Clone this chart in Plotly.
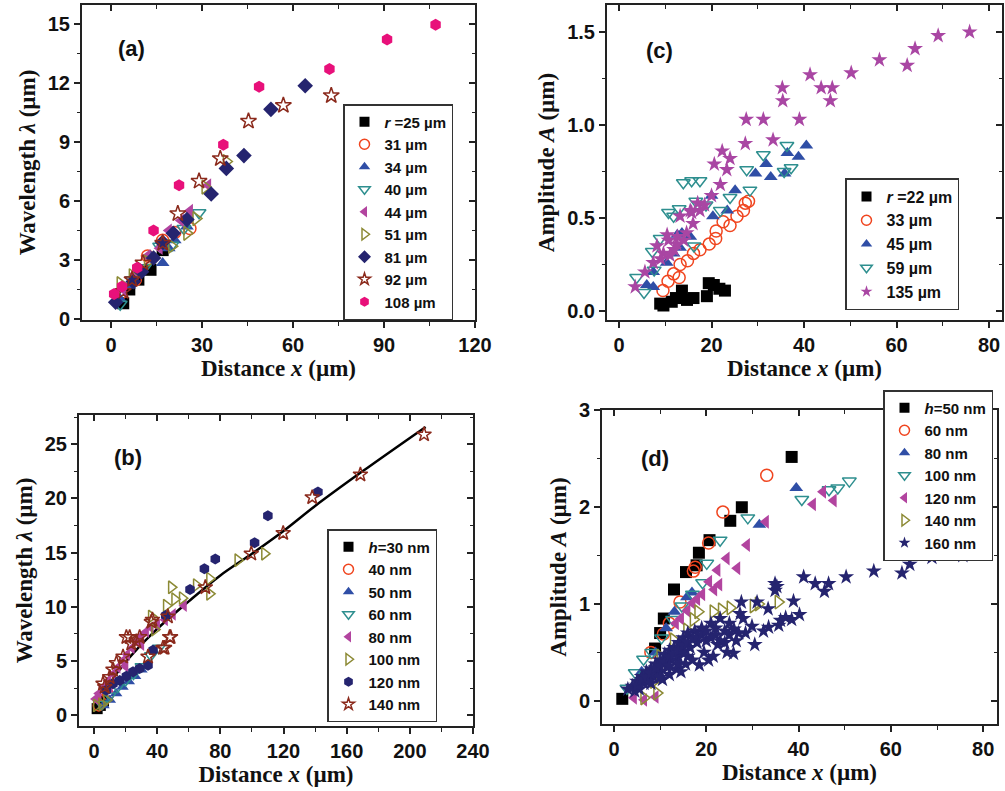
import plotly.graph_objects as go

# ---- panel (a): wavelength vs distance, different radii r ----
a_names = ["<i>r</i> =25 µm", "31 µm", "34 µm", "40 µm", "44 µm", "51 µm", "81 µm", "92 µm", "108 µm"]
a_x = [
    [4, 6, 9, 13, 17],
    [3, 8, 12, 17, 21, 26],
    [3, 6, 10, 13, 17, 19, 21, 25],
    [3, 7, 11, 16, 20, 24, 29],
    [4, 8, 12, 16, 19, 23, 26, 32],
    [3, 7, 12, 20, 25, 28, 31, 38],
    [1.5, 7.3, 10, 14, 17, 20.5, 25, 33, 38, 43.8, 52.7, 64],
    [4, 6.9, 10.5, 17, 22, 29, 36, 45.3, 56.8, 72.6],
    [1, 3.6, 8.6, 14, 22.4, 37, 48.8, 72, 91, 107],
]
a_y = [
    [0.8, 1.5, 2.0, 2.5, 3.5],
    [1.3, 2.0, 3.2, 4.0, 4.4, 4.6],
    [1.0, 1.7, 2.5, 3.2, 2.85, 3.6, 4.0, 4.7],
    [0.75, 2.0, 2.6, 3.7, 3.75, 4.6, 5.4],
    [1.5, 2.3, 3.2, 3.6, 4.5, 5.0, 5.5, 6.8],
    [1.8, 2.2, 2.9, 3.7, 4.35, 5.1, 6.7, 8.0],
    [0.85, 1.9, 2.4, 3.1, 3.9, 4.35, 5.05, 6.35, 7.65, 8.3, 10.65, 11.85],
    [1.4, 2.0, 2.85, 3.85, 5.35, 7.0, 8.15, 10.05, 10.85, 11.35],
    [1.27, 1.65, 2.6, 4.5, 6.8, 8.85, 11.8, 12.7, 14.2, 14.95],
]

# ---- panel (c): amplitude vs distance, different radii r ----
c_names = ["<i>r</i> =22 µm", "33 µm", "45 µm", "59 µm", "135 µm"]
c_x = [
    [8.9, 9.6, 11.4, 12.3, 13.6, 14.7, 16.1, 19, 19.4, 20.5, 21.7, 22.9],
    [9.5, 10.6, 11.8, 13, 13.2, 14.8, 16.1, 17.5, 19.5, 20.9, 21, 22.5, 24, 25.5, 26.9, 27.3, 28],
    [6, 7.4, 7.4, 10.3, 11.8, 13.2, 12.6, 13.6, 15.4, 20.3, 20, 23.4, 25.1, 29.5, 31.8, 32.8,
     35.8, 36.4, 38.8, 40.5],
    [3.8, 5.4, 7.6, 7.2, 8.9, 10.7, 11.8, 13, 13.9, 15.7, 17.5, 16.6, 18.8, 21.9, 24, 27.6,
     28.3, 31.2, 36.3, 35.7, 37.2, 16.2],
    [3.5, 5.6, 7.4, 8.2, 9.6, 10.7, 10.4, 11.9, 12.6, 13.2, 14.6, 15.7, 17, 17.5, 15.4, 20,
     21.9, 20.6, 23.3, 22.3, 24, 27.3, 27.5, 31.2, 33.3, 35.3, 35.4, 39, 41.3, 43.7, 45.7, 46.1,
     50.2, 56.3, 62.3, 64, 69, 75.8, 9, 11, 12.5, 14, 16, 18.5],
]
c_y = [
    [0.04, 0.03, 0.05, 0.07, 0.11, 0.06, 0.07, 0.08, 0.15, 0.14, 0.12, 0.11],
    [0.11, 0.16, 0.2, 0.18, 0.25, 0.27, 0.31, 0.33, 0.36, 0.39, 0.43, 0.48, 0.46, 0.51, 0.54, 0.58, 0.59],
    [0.14, 0.13, 0.21, 0.26, 0.31, 0.34, 0.41, 0.42, 0.40, 0.51, 0.62, 0.54, 0.65, 0.74, 0.79, 0.72,
     0.74, 0.85, 0.83, 0.89],
    [0.18, 0.10, 0.22, 0.32, 0.39, 0.53, 0.51, 0.55, 0.69, 0.70, 0.70, 0.59, 0.57, 0.54, 0.61, 0.76,
     0.65, 0.84, 0.89, 0.75, 0.77, 0.35],
    [0.13, 0.21, 0.26, 0.35, 0.31, 0.38, 0.41, 0.33, 0.40, 0.51, 0.42, 0.53, 0.58, 0.54, 0.54, 0.62,
     0.68, 0.79, 0.76, 0.86, 0.82, 0.9, 1.03, 1.03, 0.92, 1.2, 1.13, 1.03, 1.27, 1.2, 1.13, 1.2,
     1.28, 1.35, 1.32, 1.41, 1.48, 1.5, 0.28, 0.30, 0.36, 0.38, 0.47, 0.57],
]

# ---- panel (b): wavelength vs distance, different film thickness h ----
b_names = ["<i>h</i>=30 nm", "40 nm", "50 nm", "60 nm", "80 nm", "100 nm", "120 nm", "140 nm"]
b_x = [
    [2, 4, 6],
    [3, 6, 9],
    [6, 10, 14, 18, 22, 26, 30],
    [5, 10, 15, 20, 25, 30, 36, 41],
    [1, 3, 6, 9, 12, 15, 18, 21, 24, 27, 30, 33, 36, 40, 45, 50, 57, 10, 20, 30],
    [1.5, 5, 8, 36.3, 38.4, 45.8, 49, 51.1, 55.9, 64.8, 73.2, 73.2, 91.1, 108],
    [7.8, 12, 16.3, 20.5, 24.7, 28.9, 34.2, 37.4, 45.4, 60.8, 69.9, 76.8, 101.7, 110.1, 141.8],
    [5.7, 6.8, 9.9, 12, 14.2, 18.4, 20.5, 22.6, 23.6, 26.8, 28.9, 34.2, 36.3, 37, 43.7, 44.7,
     46.8, 47.9, 48.5, 70.5, 99.6, 119.8, 138.2, 168.7, 209],
]
b_y = [
    [0.6, 0.9, 1.3],
    [0.9, 1.4, 1.9],
    [0.9, 1.4, 2.0, 2.6, 3.1, 3.6, 4.2],
    [1.0, 1.8, 2.6, 3.2, 3.8, 4.5, 5.5, 6.2],
    [1.5, 2.0, 2.6, 3.2, 3.8, 4.4, 5.0, 5.6, 6.2, 6.8, 7.3, 7.7, 8.1, 8.3, 8.8, 9.3, 10.1, 2.6, 4.5, 6.5],
    [0.9, 1.0, 1.4, 9.1, 7.9, 10.1, 11.8, 10.7, 10.8, 12.0, 11.2, 12.6, 14.3, 14.9],
    [2.3, 2.9, 3.2, 3.6, 4.0, 4.3, 4.6, 6.0, 9.2, 11.6, 13.5, 14.4, 15.9, 18.4, 20.6],
    [2.9, 2.6, 3.5, 4.2, 4.8, 5.4, 7.2, 7.2, 6.6, 6.8, 7.2, 5.4, 8.6, 8.8, 6.2, 6.2,
     9.1, 7.2, 7.2, 11.8, 14.9, 16.8, 20.1, 22.2, 25.9],
]
# fitted curve in (b)
fit_x = [2, 5, 10, 20, 37.4, 60, 80, 100, 120, 140, 170, 210]
fit_y = [0.5, 1.5, 2.9, 4.9, 7.6, 10.5, 12.9, 14.9, 17.0, 19.3, 22.5, 26.6]

# ---- panel (d): amplitude vs distance, different film thickness h ----
d_names = ["<i>h</i>=50 nm", "60 nm", "80 nm", "100 nm", "120 nm", "140 nm", "160 nm"]
d_x = [
    [1.8, 8.9, 10, 10.8, 13, 15.6, 17.9, 18.4, 20.7, 25.2, 27.7, 38.5],
    [10.7, 14.3, 17.2, 17.6, 20.5, 23.6, 33.1, 8, 12],
    [11.3, 13.1, 15.8, 16.9, 31.5, 39.5, 6, 9],
    [2.8, 4.6, 6.4, 8.2, 10.3, 12.7, 14.7, 17, 19.2, 20.1, 23, 29, 40.7, 46.6, 48.5, 51],
    [4.3, 6.5, 9, 13.4, 14.5, 15.9, 17, 18, 19.1, 20.6, 21.7, 22.8, 22.4, 24.4, 26.7, 28.8,
     32.9, 43.1, 45.3, 47.6],
    [6.5, 8.6, 9.3, 10, 12.9, 15.8, 17.2, 18.2, 21.5, 23.3, 25.2, 30.2, 31.3, 35.6],
    [3, 4, 5, 5.5, 6, 6.5, 7, 7.5, 8, 8.5,
     9, 9.5, 10, 10, 10.5, 11, 11.5, 12, 12, 12.5,
     13, 13.5, 14, 14, 14.5, 15, 15, 15.5, 16, 16.5,
     17, 17.5, 18, 18.5, 19, 19.5, 20, 20.5, 21, 21.5,
     22, 22.5, 23, 24, 24.5, 25, 25.9, 26.5, 27.3, 27.6,
     28.5, 29.9, 30.5, 31, 32.4, 33.4, 33.5, 34.9, 34.9, 35.3,
     35.7, 36.1, 37.2, 38.5, 38.9, 40.2, 41.1, 43.6, 45.6, 46.5,
     50.3, 56.3, 62.4, 64.1, 68.9, 75.6,
     4.5, 5, 6, 7, 8, 9, 10, 11, 12, 13,
     14, 15, 16, 17, 18, 19, 20, 21, 22, 23,
     24, 25, 26, 27, 28, 8, 10, 12, 14, 16],
]
d_y = [
    [0.02, 0.54, 0.70, 0.85, 1.15, 1.33, 1.40, 1.53, 1.66, 1.86, 2.0, 2.52],
    [0.69, 1.02, 1.34, 1.38, 1.63, 1.95, 2.33, 0.5, 0.8],
    [0.75, 0.92, 1.07, 1.12, 1.82, 2.2, 0.3, 0.5],
    [0.13, 0.29, 0.43, 0.5, 0.65, 0.84, 0.98, 1.10, 1.22, 1.42, 1.66, 1.89, 2.08, 2.18, 2.2, 2.27],
    [0.03, 0.01, 0.04, 0.8, 0.85, 0.93, 1.01, 1.05, 1.1, 1.23, 1.15, 1.2, 1.35, 1.47, 1.37, 1.61,
     1.85, 2.03, 2.16, 2.07],
    [0.03, 0.2, 0.08, 0.46, 0.63, 0.73, 0.84, 0.92, 0.92, 0.94, 0.96, 0.98, 1.0, 1.02],
    [0.12, 0.15, 0.2, 0.12, 0.25, 0.18, 0.3, 0.2, 0.33, 0.25,
     0.38, 0.28, 0.42, 0.3, 0.22, 0.48, 0.35, 0.52, 0.27, 0.42,
     0.55, 0.33, 0.6, 0.45, 0.3, 0.65, 0.5, 0.38, 0.7, 0.55,
     0.42, 0.72, 0.6, 0.37, 0.75, 0.5, 0.62, 0.42, 0.8, 0.46,
     0.68, 0.58, 0.85, 0.72, 0.5, 0.8, 0.49, 0.62, 0.9, 1.02,
     0.7, 0.77, 0.58, 1.02, 0.72, 0.95, 0.76, 1.21, 1.14, 1.18,
     0.78, 0.83, 0.86, 0.84, 1.03, 0.89, 1.28, 1.21, 1.13, 1.21,
     1.28, 1.34, 1.32, 1.41, 1.48, 1.5,
     0.1, 0.16, 0.22, 0.24, 0.28, 0.34, 0.36, 0.4, 0.45, 0.48,
     0.52, 0.57, 0.6, 0.64, 0.66, 0.68, 0.72, 0.65, 0.75, 0.62,
     0.6, 0.68, 0.74, 0.7, 0.85, 0.18, 0.24, 0.36, 0.38, 0.46],
]

# marker styles (symbol, colour)
BLACK = ("square", "#000000")
RED_O = ("circle-open", "#f0451f")
BLUE = ("triangle-up", "#2f4ea6")
TEAL_O = ("triangle-down-open", "#2e8f8f")
MAG = ("triangle-left", "#b2449f")
OLIVE_O = ("triangle-right-open", "#8c8a35")
NAVY_D = ("diamond", "#25246f")
BROWN_O = ("star-open", "#8b2a1c")
PINK = ("hexagon", "#e8107a")
NAVY_H = ("hexagon", "#25246f")
MAG_S = ("star", "#a946a3")
NAVY_S = ("star", "#25246f")

a_style = [BLACK, RED_O, BLUE, TEAL_O, MAG, OLIVE_O, NAVY_D, BROWN_O, PINK]
c_style = [BLACK, RED_O, BLUE, TEAL_O, MAG_S]
b_style = [BLACK, RED_O, BLUE, TEAL_O, MAG, OLIVE_O, NAVY_H, BROWN_O]
d_style = [BLACK, RED_O, BLUE, TEAL_O, MAG, OLIVE_O, NAVY_S]

W, H = 1005, 791
fig = go.Figure()


def marker(sym, col, size):
    return dict(symbol=sym, color=col, size=size,
                line=dict(color=col, width=1.5 if "open" in sym else 0))


def add_panel(names, xs, ys, styles, xa, ya, legend, size=12):
    for name, x, y, (sym, col) in zip(names, xs, ys, styles):
        fig.add_trace(go.Scatter(x=x, y=y, mode="markers", name=name, showlegend=False,
                                 xaxis=xa, yaxis=ya, marker=marker(sym, col, size)))
    # legend entries with the smaller symbols of the original key
    for name, (sym, col) in zip(names, styles):
        fig.add_trace(go.Scatter(x=[None], y=[None], mode="markers", name=name, legend=legend,
                                 xaxis=xa, yaxis=ya,
                                 marker=marker(sym, col, 9 if sym.startswith("star") else 10)))


add_panel(a_names, a_x, a_y, a_style, "x", "y", "legend")
add_panel(c_names, c_x, c_y, c_style, "x2", "y2", "legend2")
fig.add_trace(go.Scatter(x=fit_x, y=fit_y, mode="lines", showlegend=False, line_shape="spline",
                         xaxis="x3", yaxis="y3", line=dict(color="black", width=2.5)))
add_panel(b_names, b_x, b_y, b_style, "x3", "y3", "legend3", size=11)
add_panel(d_names, d_x, d_y, d_style, "x4", "y4", "legend4")

# panel frames in pixels: left, right, top, bottom
frames = {
    1: (82, 475, 5, 320),
    2: (607, 1002, 5, 320),
    3: (79, 473, 415, 726),
    4: (602, 997, 410, 724),
}
xranges = {1: [-9.6, 120], 2: [-2.6, 82.8], 3: [-9.5, 240], 4: [-2.6, 83]}
yranges = {1: [-0.05, 15.95], 2: [-0.048, 1.645], 3: [-1.0, 27.7], 4: [-0.24, 3.005]}
xticks = {1: (30, 15), 2: (20, 10), 3: (40, 20), 4: (20, 10)}
yticks = {1: (3, 1.5), 2: (0.5, 0.25), 3: (5, 2.5), 4: (1, 0.5)}
yfmt = {1: "", 2: ".1f", 3: "", 4: ""}
ytitles = {1: "Wavelength <i>λ</i> (µm)", 2: "Amplitude <i>A</i> (µm)",
           3: "Wavelength <i>λ</i> (µm)", 4: "Amplitude <i>A</i> (µm)"}

tickfont = dict(family="Liberation Sans", size=20, color="#111", weight="bold")
titlefont = dict(family="Liberation Serif", size=23, color="#111", weight="bold")
layout = {}
for i, (l, r, t, b) in frames.items():
    s = "" if i == 1 else str(i)
    dom_x = [l / W, r / W]
    dom_y = [1 - b / H, 1 - t / H]
    common = dict(showline=True, linecolor="#222", linewidth=2, showgrid=False, automargin=False,
                  zeroline=False, ticks="outside", ticklen=6, tickwidth=1.5, tickcolor="#222")
    layout["xaxis" + s] = dict(domain=dom_x, anchor="y" + s, range=xranges[i],
                               dtick=xticks[i][0], tick0=0, tickfont=tickfont,
                               minor=dict(ticks="outside", ticklen=3.5, dtick=xticks[i][1],
                                          tick0=0, tickcolor="#222", tickwidth=1.2),
                               title=dict(text="Distance <i>x</i> (µm)", font=titlefont, standoff=2),
                               **common)
    layout["yaxis" + s] = dict(domain=dom_y, anchor="x" + s, range=yranges[i],
                               dtick=yticks[i][0], tick0=0, tickformat=yfmt[i], tickfont=tickfont,
                               minor=dict(ticks="outside", ticklen=3.5, dtick=yticks[i][1],
                                          tick0=0, tickcolor="#222", tickwidth=1.2),
                               title=dict(text=ytitles[i], font=titlefont, standoff=6),
                               **common)
    # mirrored frame with inside ticks on top / right
    j = i + 4
    inner = dict(showline=True, linecolor="#222", linewidth=2, showgrid=False, zeroline=False,
                 automargin=False, ticks="inside", ticklen=6, tickwidth=1.5, tickcolor="#222",
                 showticklabels=False)
    layout["xaxis%d" % j] = dict(overlaying="x" + s, side="top", anchor="y%d" % j, range=xranges[i],
                                 dtick=xticks[i][0], tick0=0,
                                 minor=dict(ticks="inside", ticklen=3.5, dtick=xticks[i][1], tick0=0,
                                            tickcolor="#222", tickwidth=1.2),
                                 **inner)
    layout["yaxis%d" % j] = dict(overlaying="y" + s, side="right", anchor="x%d" % j, range=yranges[i],
                                 dtick=yticks[i][0], tick0=0,
                                 minor=dict(ticks="inside", ticklen=3.5, dtick=yticks[i][1], tick0=0,
                                            tickcolor="#222", tickwidth=1.2),
                                 **inner)
    fig.add_trace(go.Scatter(x=[None], y=[None], xaxis="x%d" % j, yaxis="y%d" % j,
                             showlegend=False, hoverinfo="skip"))

legfont = dict(family="Liberation Sans", size=15, color="#111", weight="bold")
legbox = dict(bgcolor="white", bordercolor="#333", borderwidth=1.5, font=legfont,
              xref="paper", yref="paper", xanchor="left", yanchor="top", tracegroupgap=0)
layout["legend"] = dict(x=343 / W, y=1 - 104 / H, **legbox)
layout["legend2"] = dict(x=845 / W, y=1 - 178 / H, **{**legbox, "font": dict(legfont, size=16)})
layout["legend3"] = dict(x=327 / W, y=1 - 529 / H, **legbox)
layout["legend4"] = dict(x=883 / W, y=1 - 390 / H, **legbox)

labels = [("(a)", "x", 0.127, 0.863), ("(c)", "x2", 0.132, 0.857),
          ("(b)", "x3", 0.124, 0.862), ("(d)", "x4", 0.134, 0.844)]
annotations = []
for text, xa, ax, ay in labels:
    ya = xa.replace("x", "y")
    annotations.append(dict(text=text, x=ax, y=ay, xref=xa + " domain", yref=ya + " domain",
                            showarrow=False, xanchor="center", yanchor="middle",
                            font=dict(family="Liberation Sans", size=22, color="#111", weight="bold")))

fig.update_layout(width=W, height=H, margin=dict(l=0, r=0, t=0, b=0),
                  plot_bgcolor="white", paper_bgcolor="white",
                  annotations=annotations, **layout)

# drop the default page margin so the figure fills the window exactly
fig.write_html("out.html", config={"displayModeBar": False},
               post_script="document.body.style.margin='0px';")
